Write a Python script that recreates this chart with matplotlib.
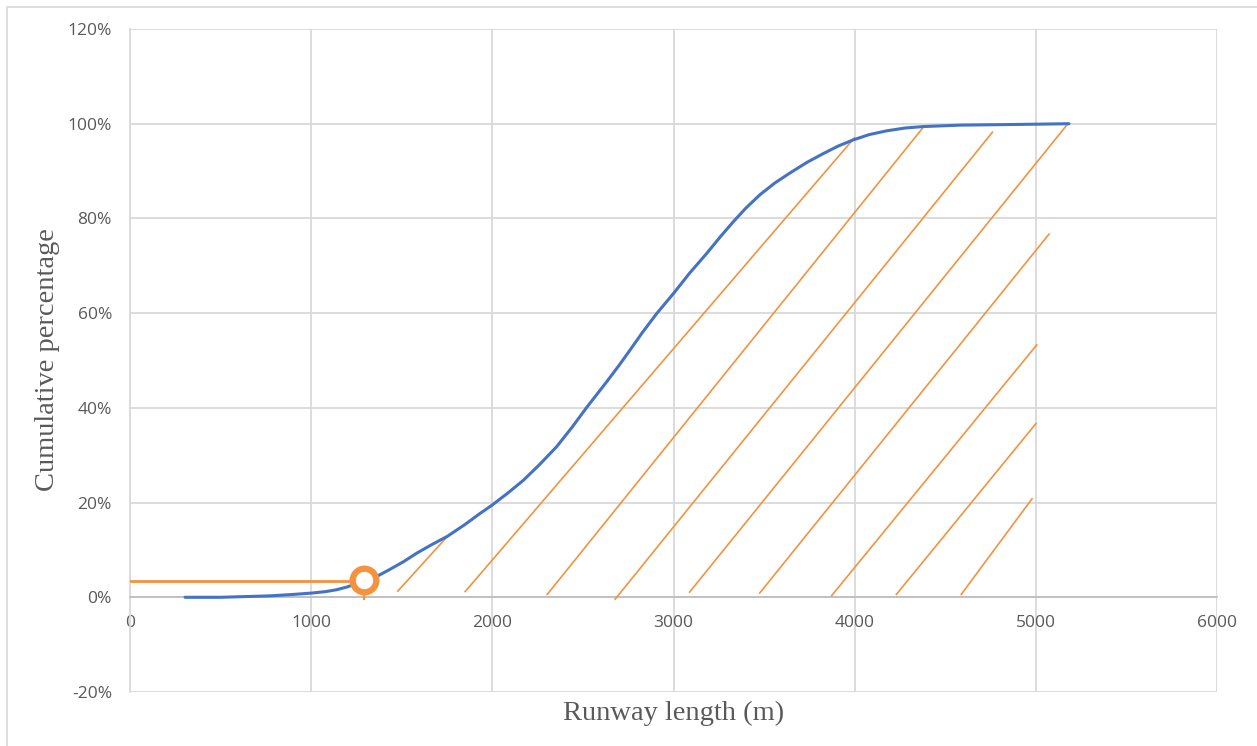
import numpy as np
import matplotlib.pyplot as plt
from matplotlib.patches import Rectangle

# cumulative share of runways vs. runway length
length = [304, 500, 773, 900, 1006, 1080, 1141, 1200, 1251, 1310, 1362, 1430,
          1509, 1582, 1660, 1753, 1850, 1932, 2000, 2085, 2171, 2260, 2355,
          2440, 2521, 2631, 2700, 2760, 2830, 2907, 3003, 3090, 3183, 3260,
          3330, 3400, 3477, 3560, 3643, 3735, 3827, 3910, 3993, 4080, 4177,
          4280, 4379, 4581, 4800, 5000, 5183]
cum_pct = [0.0, 0.0, 0.3, 0.6, 0.9, 1.2, 1.6, 2.2, 2.9, 3.7, 4.4, 5.8,
           7.5, 9.3, 11.0, 12.9, 15.4, 17.7, 19.5, 22.0, 24.7, 28.0, 31.8,
           35.9, 40.1, 45.5, 49.0, 52.2, 56.0, 59.9, 64.3, 68.5, 72.6, 76.2,
           79.3, 82.2, 85.0, 87.5, 89.6, 91.8, 93.7, 95.3, 96.6, 97.7, 98.5,
           99.1, 99.4, 99.7, 99.8, 99.9, 100.0]

# hatch segments: start and end of each orange diagonal
seg_x0 = [1478, 1850, 2303, 2678, 3089, 3476, 3873, 4230, 4588]
seg_y0 = [1.3, 1.2, 0.6, -0.4, 1.1, 0.9, 0.35, 0.6, 0.6]
seg_x1 = [1753, 3998, 4384, 4760, 5175, 5073, 5005, 5001, 4979]
seg_y1 = [12.9, 97.0, 99.5, 98.2, 99.9, 76.7, 53.3, 36.7, 20.8]

# reference point (shortest runway)
ref_x = 1293
ref_y = 3.7
ref_line_y = 3.5

blue = '#4472C4'
orange = '#F4923E'
grid_c = '#D9D9D9'
text_c = '#595959'

fig = plt.figure(figsize=(12.57, 7.46), dpi=100)
ax = fig.add_axes([130 / 1257, 1 - 692 / 746, 1087 / 1257, 663 / 746])

for x0, y0, x1, y1 in zip(seg_x0, seg_y0, seg_x1, seg_y1):
    ax.plot([x0, x1], [y0, y1], color=orange, lw=1.2, zorder=3)

ax.plot(length, cum_pct, color=blue, lw=2.2, zorder=4,
        solid_capstyle='round', solid_joinstyle='round')

ax.plot([0, ref_x], [ref_line_y, ref_line_y], color=orange, lw=2.0, zorder=5)
ax.plot([ref_x, ref_x], [ref_y, -0.4], color=orange, lw=1.6, zorder=5)
ax.plot([ref_x], [ref_y], 'o', ms=17, mfc='white', mec=orange, mew=4.5, zorder=6)

ax.set_xlim(0, 6000)
ax.set_ylim(-20, 120)
ax.set_xticks(np.arange(0, 6001, 1000))
ax.set_yticks(np.arange(-20, 121, 20))
ax.set_yticklabels([f'{v}%' for v in range(-20, 121, 20)])
ax.grid(True, color=grid_c, lw=1.3, zorder=0)
ax.set_axisbelow(True)

for s in ['top', 'right']:
    ax.spines[s].set_visible(False)
ax.spines['left'].set_color(grid_c)
ax.spines['left'].set_linewidth(1.3)
ax.spines['bottom'].set_position(('data', 0))
ax.spines['bottom'].set_color('#BFBFBF')
ax.spines['bottom'].set_linewidth(1.3)

ax.tick_params(length=0, labelsize=12.5, labelcolor=text_c)
ax.tick_params(axis='x', pad=13)
ax.tick_params(axis='y', pad=13)
for lab in ax.get_xticklabels() + ax.get_yticklabels():
    lab.set_fontfamily('Open Sans')

fig.text(674 / 1257, 1 - 713 / 746, 'Runway length (m)', ha='center', va='center',
         fontsize=20.5, color=text_c, family='Liberation Serif')
fig.text(48 / 1257, 1 - 360 / 746, 'Cumulative percentage', ha='center', va='center',
         rotation=90, fontsize=20.5, color=text_c, family='Liberation Serif')

# chart area frame
fig.patches.append(Rectangle((7 / 1257, -0.1), 1.2, 1 - 7 / 746 + 0.1,
                             transform=fig.transFigure, fill=False,
                             edgecolor='#D9D9D9', lw=1.2))

fig.savefig('out.png', dpi=100)
